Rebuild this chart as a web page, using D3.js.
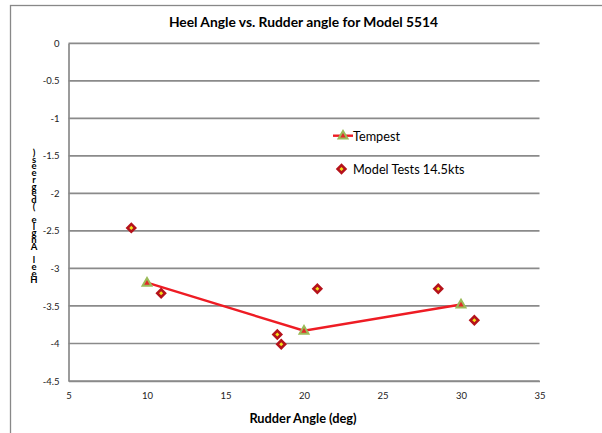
<!DOCTYPE html>
<html>
<head>
<meta charset="utf-8">
<script src="https://cdn.jsdelivr.net/npm/d3@7"></script>
<style>
  body { margin: 0; background: #fff; }
  svg { display: block; font-family: Lato, "Open Sans", sans-serif; }
</style>
</head>
<body>
<svg id="chart" width="602" height="433"></svg>
<script>
// values
const tempestRudder = [10, 20, 30];
const tempestHeel = [-3.19, -3.83, -3.48];
const modelRudder = [9.0, 10.9, 18.3, 18.55, 20.85, 28.55, 30.85];
const modelHeel = [-2.46, -3.33, -3.88, -4.01, -3.27, -3.27, -3.69];
const xTicks = [5, 10, 15, 20, 25, 30, 35];
const yTicks = [0, -0.5, -1, -1.5, -2, -2.5, -3, -3.5, -4, -4.5];

const svg = d3.select("#chart");
const plotL = 68.5, plotR = 539.5, plotT = 43.3, plotB = 381;

const x = d3.scaleLinear().domain([5, 35]).range([plotL, plotR]);
const y = d3.scaleLinear().domain([-4.5, 0]).range([plotB, plotT]);

// outer chart frame (runs off the right/bottom edge)
svg.append("rect")
  .attr("x", 10.5).attr("y", 5.5)
  .attr("width", 640).attr("height", 480)
  .attr("fill", "none").attr("stroke", "#888").attr("stroke-width", 1.3);

svg.append("text")
  .attr("x", 303.5).attr("y", 27)
  .attr("text-anchor", "middle")
  .style("font-size", "13.8px").style("font-weight", "bold")
  .text("Heel Angle vs. Rudder angle for Model 5514");

// gridlines
svg.append("g").selectAll("line")
  .data(yTicks)
  .join("line")
  .attr("x1", plotL).attr("x2", plotR)
  .attr("y1", d => y(d)).attr("y2", d => y(d))
  .attr("stroke", "#8a8a8a").attr("stroke-width", 1.7);

// axes
const xAxis = d3.axisBottom(x).tickValues(xTicks).tickSize(0).tickPadding(11).tickFormat(d3.format("d"));
const yAxis = d3.axisLeft(y).tickValues(yTicks).tickSize(0).tickPadding(9).tickFormat(d => d);

const gx = svg.append("g").attr("transform", `translate(0,${plotB})`).call(xAxis);
const gy = svg.append("g").attr("transform", `translate(${plotL},0)`).call(yAxis);
[gx, gy].forEach(g => {
  g.select(".domain").attr("stroke", "#8a8a8a").attr("stroke-width", 1.7);
  g.selectAll("text").style("font-size", "9.5px").attr("fill", "#222").style("font-family", "Lato, sans-serif");
});

svg.append("text")
  .attr("x", 303).attr("y", 423)
  .attr("text-anchor", "middle")
  .style("font-size", "12.8px").style("font-weight", "bold")
  .text("Rudder Angle (deg)");

// garbled stacked y title, as in the reference (letters upright, bottom to top)
const yTitle = "Heel Angle (degrees)".split("").reverse();
svg.append("g").selectAll("text")
  .data(yTitle)
  .join("text")
  .attr("x", 34)
  .attr("y", (d, i) => 156 + i * 6.7)
  .attr("text-anchor", "middle")
  .style("font-size", "9.5px").style("font-weight", "bold")
  .text(d => d);

// tempest line
const tempest = tempestRudder.map((r, i) => [r, tempestHeel[i]]);
svg.append("path")
  .datum(tempest)
  .attr("d", d3.line().x(d => x(d[0])).y(d => y(d[1])))
  .attr("fill", "none").attr("stroke", "#ee1c24").attr("stroke-width", 2.4);

const tri = d3.symbol().type(d3.symbolTriangle).size(34);
const dia = d3.symbol().type(d3.symbolSquare).size(30);

svg.append("g").selectAll("path")
  .data(tempest)
  .join("path")
  .attr("d", tri)
  .attr("transform", d => `translate(${x(d[0])},${y(d[1]) + 0.5})`)
  .attr("fill", "#e02a2a").attr("stroke", "#9bbb59").attr("stroke-width", 2);

// model test points
const model = modelRudder.map((r, i) => [r, modelHeel[i]]);
svg.append("g").selectAll("path")
  .data(model)
  .join("path")
  .attr("d", dia)
  .attr("transform", d => `translate(${x(d[0])},${y(d[1])}) rotate(45)`)
  .attr("fill", "#f2e21a").attr("stroke", "#b5121b").attr("stroke-width", 2.6);

// legend
const lg = svg.append("g");
lg.append("line").attr("x1", 333).attr("x2", 353).attr("y1", 135.7).attr("y2", 135.7)
  .attr("stroke", "#ee1c24").attr("stroke-width", 2.4);
lg.append("path").attr("d", tri).attr("transform", "translate(343,136)")
  .attr("fill", "#e02a2a").attr("stroke", "#9bbb59").attr("stroke-width", 2);
lg.append("text").attr("x", 353).attr("y", 140.5).style("font-size", "12.7px").text("Tempest");
lg.append("path").attr("d", dia).attr("transform", "translate(341.5,169) rotate(45)")
  .attr("fill", "#f2e21a").attr("stroke", "#b5121b").attr("stroke-width", 2.6);
lg.append("text").attr("x", 353).attr("y", 173.8).style("font-size", "12.7px").text("Model Tests 14.5kts");
</script>
</body>
</html>
